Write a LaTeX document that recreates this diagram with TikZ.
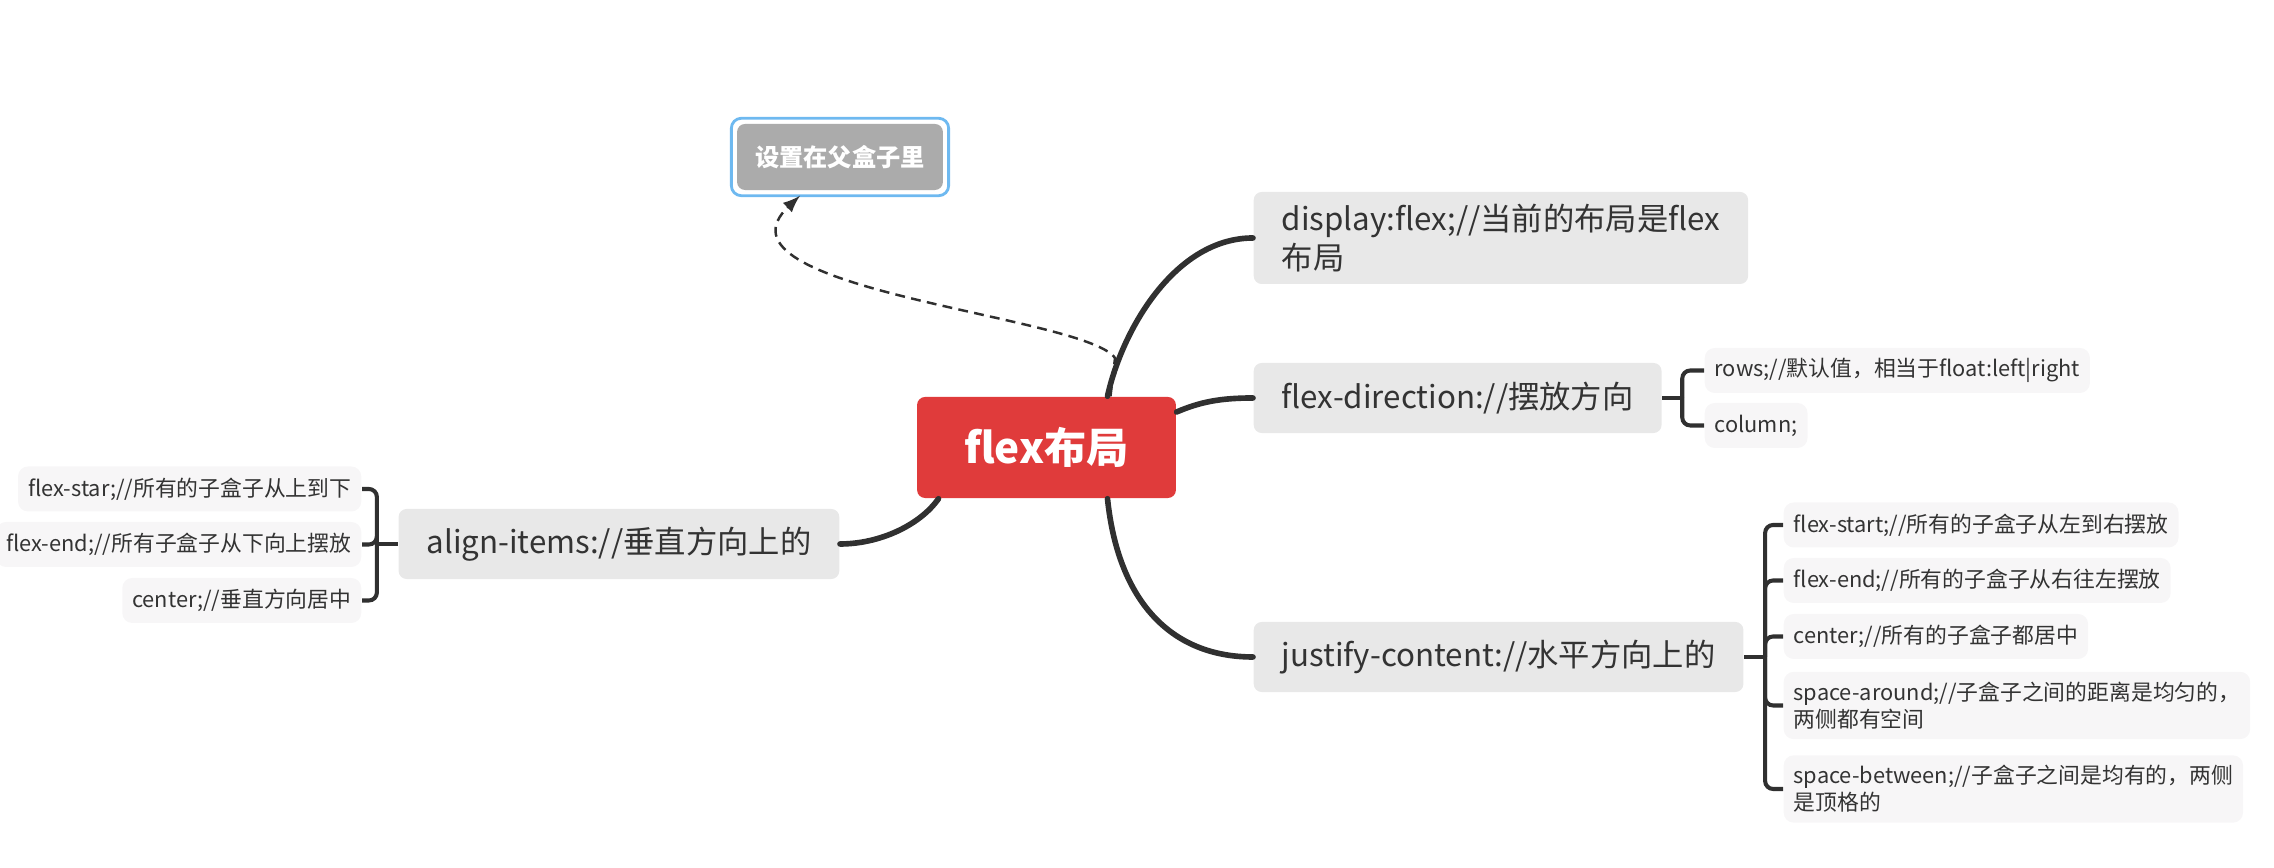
\documentclass[tikz,border=0pt]{standalone}
\usepackage{fontspec}
\setmainfont{Noto Sans CJK SC}
\usepackage{tikz}
\usetikzlibrary{calc}
\usetikzlibrary{positioning}
\definecolor{rootred}{RGB}{224,59,59}
\definecolor{topicgray}{RGB}{232,232,232}
\definecolor{subgray}{RGB}{247,246,247}
\definecolor{floatgray}{RGB}{171,171,171}
\definecolor{selblue}{RGB}{110,185,240}
\definecolor{linedark}{RGB}{48,48,48}
\definecolor{textdark}{RGB}{51,51,51}
\tikzstyle{root}=[%
  fill=rootred,
  rounded corners=0.08cm,
  text=white,
  font=\fontsize{12}{14}\selectfont\bfseries,
  minimum height=1.01cm,
  inner xsep=0.47cm
]
\tikzstyle{topic}=[%
  fill=topicgray,
  rounded corners=0.08cm,
  text=textdark,
  font=\fontsize{8.9}{11.1}\selectfont,
  align=left,
  minimum height=0.70cm,
  inner xsep=0.28cm,
  inner ysep=0.12cm
]
\tikzstyle{subtopic}=[%
  fill=subgray,
  rounded corners=0.1cm,
  text=textdark,
  font=\fontsize{6.2}{7.7}\selectfont,
  align=left,
  minimum height=0.45cm,
  inner xsep=0.1cm,
  inner ysep=0.1cm
]
\tikzstyle{floating}=[%
  fill=floatgray,
  rounded corners=0.08cm,
  text=white,
  font=\fontsize{6.9}{8}\selectfont\bfseries,
  minimum height=0.66cm,
  inner xsep=0.18cm
]
\tikzstyle{branch}=[draw=linedark, line width=1.6pt, line cap=round]
\tikzstyle{brace}=[draw=linedark, line width=1.15pt, rounded corners=0.08cm]
\tikzstyle{relation}=[draw=linedark, line width=0.7pt, dash pattern=on 2.8pt off 1.8pt, -latex]

\begin{document}
\begin{tikzpicture}[x=0.01cm, y=-0.01cm]
      \useasboundingbox (0,0) rectangle (2274,868);
      \node[root] (root) at (1046.5,447.5) {flex布局};
      \node[floating] (float) at (840,157) {设置在父盒子里};
      \draw[selblue, line width=0.8pt, rounded corners=0.1cm]
        ([xshift=-0.05cm,yshift=0.05cm]float.north west) rectangle
        ([xshift=0.05cm,yshift=-0.05cm]float.south east);
      \node[topic, anchor=west] (display) at (1253,238) {display:flex;//当前的布局是flex\\布局};
      \node[topic, anchor=west] (direction) at (1253,398) {flex-direction://摆放方向};
      \node[topic, anchor=west] (justify) at (1253,657) {justify-content://水平方向上的};
      \node[topic, anchor=east] (align) at (840,544) {align-items://垂直方向上的};
      \node[subtopic, anchor=west] (rows) at (1704,370.5) {rows;//默认值，相当于float:left|right};
      \node[subtopic, anchor=west] (column) at (1704,425.5) {column;};
      \foreach \name/\ypos/\txt in {%
        start/525/{flex-start;//所有的子盒子从左到右摆放},
        end/580.5/{flex-end;//所有的子盒子从右往左摆放},
        center/636.5/{center;//所有的子盒子都居中},
        around/705.5/{space-around;//子盒子之间的距离是均匀的，\\两侧都有空间},
        between/789/{space-between;//子盒子之间是均有的，两侧\\是顶格的}} {%
        \node[subtopic, anchor=west] (\name) at (1783,\ypos) {\txt};
      }
      \foreach \name/\ypos/\txt in {%
        vstart/489/{flex-star;//所有的子盒子从上到下},
        vend/544.5/{flex-end;//所有子盒子从下向上摆放},
        vcenter/600.5/{center;//垂直方向居中}} {%
        \node[subtopic, anchor=east] (\name) at (362,\ypos) {\txt};
      }
      % relationship
      \draw[relation] ($(root.north)+(64,0)$) -- (1115,358)
        .. controls (1085,315) and (700,290) .. ($(float.south)+(-40,5)$);
      % main branches
      \draw[branch] ($(root.north)+(61,0)$) .. controls (1122,330) and (1175,238) .. (display.west);
      \draw[branch] ($(root.east)+(0,-35.5)$) .. controls (1200,402) and (1220,398) .. (direction.west);
      \draw[branch] ($(root.south)+(61,0)$) .. controls (1118,600) and (1170,657) .. (justify.west);
      \draw[branch] ($(root.south)+(-108,0)$) .. controls (920,525) and (880,544) .. (align.east);
      % braces
      \draw[brace] (direction.east) -- ++(20,0) coordinate (dirjoin);
      \foreach \c in {rows, column} {%
        \draw[brace] (dirjoin) |- (\c.west);
      }
      \draw[brace] (justify.east) -- ++(21,0) coordinate (jusjoin);
      \foreach \c in {start, end, center, around, between} {%
        \draw[brace] (jusjoin) |- (\c.west);
      }
      \draw[brace] (align.west) -- ++(-21,0) coordinate (alijoin);
      \foreach \c in {vstart, vend, vcenter} {%
        \draw[brace] (alijoin) |- (\c.east);
      }
    \end{tikzpicture}
\end{document}
